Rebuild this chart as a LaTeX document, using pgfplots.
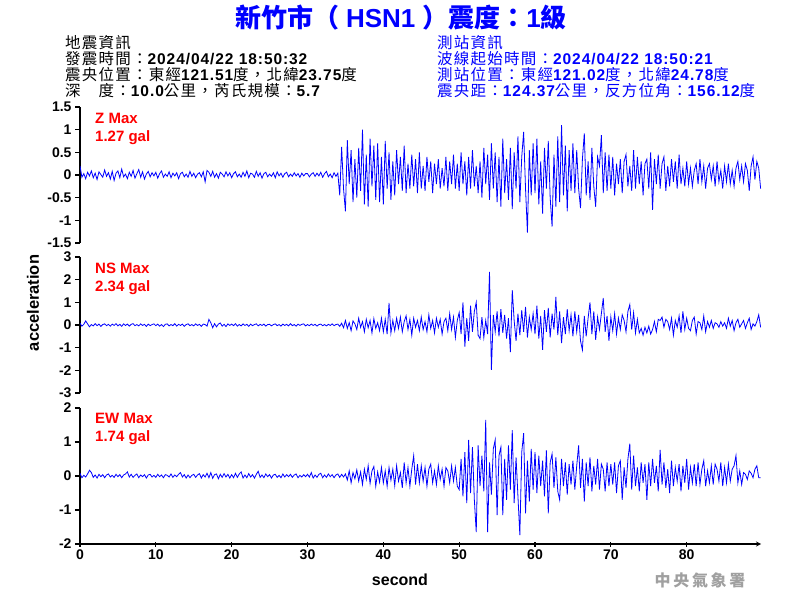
\documentclass[border=0pt]{standalone}
\usepackage{fontspec}
\setmainfont{Liberation Sans}
\newfontfamily\cjk{Noto Sans CJK TC}
\newfontfamily\cjkinfo[LetterSpace=8]{Noto Sans CJK TC}
\newfontfamily\latinfo[LetterSpace=6]{Liberation Sans}
\newcommand\zh[1]{{\cjkinfo\mdseries #1}}
\usepackage{pgfplots}
\pgfplotsset{compat=1.18}
\usepackage{pgfplotstable}

% samples every 0.25 s
\pgfplotstableread[row sep=\\]{z\\
0.20\\ -0.05\\ 0.03\\ -0.08\\ 0.06\\ -0.02\\ 0.09\\ -0.06\\ 0.04\\ -0.10\\ 0.07\\ 0.01\\ -0.05\\ 0.11\\ -0.03\\ 0.05\\ -0.09\\ 0.08\\ -0.12\\ 0.04\\
0.09\\ -0.06\\ 0.13\\ -0.04\\ 0.02\\ -0.08\\ 0.06\\ -0.03\\ 0.10\\ -0.07\\ 0.03\\ 0.12\\ -0.05\\ 0.07\\ -0.09\\ 0.02\\ 0.08\\ -0.04\\ 0.05\\ -0.02\\
0.06\\ -0.07\\ 0.03\\ 0.09\\ -0.05\\ 0.02\\ -0.03\\ 0.07\\ -0.06\\ 0.04\\ -0.02\\ 0.05\\ -0.08\\ 0.03\\ 0.06\\ -0.04\\ 0.02\\ -0.05\\ 0.08\\ -0.03\\
0.04\\ -0.06\\ 0.02\\ 0.05\\ -0.04\\ 0.07\\ -0.15\\ 0.10\\ 0.06\\ -0.03\\ 0.08\\ -0.05\\ 0.03\\ -0.07\\ 0.06\\ 0.02\\ -0.04\\ 0.07\\ -0.02\\ 0.05\\
-0.06\\ 0.03\\ 0.07\\ -0.04\\ 0.02\\ -0.05\\ 0.06\\ -0.03\\ 0.09\\ -0.06\\ 0.04\\ 0.02\\ -0.05\\ 0.08\\ -0.03\\ 0.05\\ -0.07\\ 0.03\\ 0.06\\ -0.04\\
0.02\\ -0.03\\ 0.05\\ -0.06\\ 0.07\\ -0.02\\ 0.04\\ -0.05\\ 0.03\\ 0.06\\ -0.04\\ 0.02\\ -0.03\\ 0.05\\ -0.02\\ 0.03\\ -0.05\\ 0.04\\ -0.02\\ 0.03\\
0.03\\ -0.04\\ 0.02\\ 0.05\\ -0.03\\ 0.04\\ -0.02\\ 0.06\\ -0.05\\ 0.03\\ 0.08\\ -0.04\\ 0.02\\ -0.06\\ 0.05\\ -0.03\\ 0.04\\ -0.45\\ 0.62\\ -0.30\\
-0.80\\ 0.77\\ -0.20\\ 0.55\\ -0.60\\ 0.35\\ -0.50\\ 0.60\\ -0.35\\ 1.00\\ -0.65\\ 0.45\\ -0.70\\ 0.80\\ -0.25\\ 0.65\\ -0.55\\ 0.70\\ -0.60\\ 0.40\\
-0.65\\ 0.75\\ -0.30\\ 0.50\\ -0.55\\ 0.30\\ -0.45\\ 0.55\\ -0.20\\ 0.40\\ -0.35\\ 0.65\\ -0.40\\ 0.25\\ -0.30\\ 0.45\\ -0.25\\ 0.35\\ -0.40\\ 0.50\\
-0.30\\ 0.20\\ -0.35\\ 0.40\\ -0.15\\ 0.30\\ -0.40\\ 0.25\\ -0.20\\ 0.35\\ -0.30\\ 0.15\\ -0.25\\ 0.40\\ -0.35\\ 0.30\\ -0.20\\ 0.45\\ -0.30\\ 0.25\\
-0.35\\ 0.50\\ -0.20\\ 0.30\\ -0.45\\ 0.40\\ -0.30\\ 0.55\\ -0.25\\ 0.20\\ -0.40\\ 0.30\\ -0.50\\ 0.60\\ -0.20\\ 0.45\\ -0.55\\ 0.70\\ -0.30\\ 0.50\\
-0.60\\ 0.40\\ -0.70\\ 0.80\\ -0.40\\ 0.35\\ -0.55\\ 0.60\\ -0.75\\ 0.50\\ -0.30\\ 0.85\\ -0.60\\ 0.40\\ 0.95\\ -0.30\\ -1.27\\ 0.55\\ -0.45\\ 0.70\\
-0.40\\ 0.80\\ -0.65\\ 0.30\\ -0.85\\ 0.60\\ -0.30\\ 0.75\\ -0.50\\ -1.14\\ 0.45\\ -0.70\\ 0.85\\ -0.60\\ 1.10\\ -0.45\\ 0.65\\ -0.80\\ 0.55\\ -0.35\\
0.70\\ -0.40\\ 0.55\\ -0.30\\ -0.73\\ 0.35\\ 0.92\\ -0.45\\ 0.30\\ -0.55\\ 0.60\\ -0.25\\ -0.70\\ 0.40\\ 0.20\\ 0.88\\ -0.40\\ 0.50\\ -0.35\\ 0.45\\
-0.30\\ 0.40\\ -0.45\\ 0.25\\ -0.20\\ 0.35\\ -0.40\\ 0.30\\ 0.45\\ -0.25\\ 0.20\\ -0.35\\ 0.55\\ -0.30\\ 0.40\\ -0.20\\ 0.30\\ -0.45\\ 0.25\\ 0.35\\
-0.30\\ 0.50\\ -0.77\\ 0.35\\ -0.20\\ 0.45\\ -0.30\\ 0.25\\ 0.40\\ -0.35\\ 0.20\\ -0.25\\ 0.35\\ -0.15\\ 0.30\\ -0.30\\ 0.45\\ -0.20\\ 0.15\\ -0.25\\
0.30\\ -0.20\\ 0.15\\ -0.25\\ 0.10\\ 0.25\\ -0.20\\ 0.35\\ -0.15\\ 0.20\\ -0.30\\ 0.15\\ 0.25\\ -0.10\\ 0.20\\ -0.25\\ 0.30\\ -0.15\\ 0.10\\ -0.30\\
0.20\\ -0.15\\ 0.25\\ -0.20\\ 0.10\\ -0.25\\ 0.15\\ 0.30\\ -0.10\\ 0.20\\ -0.15\\ 0.25\\ 0.10\\ -0.35\\ 0.20\\ 0.40\\ -0.10\\ 0.30\\ 0.15\\ -0.30\\
}\zdata

\pgfplotstableread[row sep=\\]{ns\\
0.08\\ -0.05\\ 0.03\\ 0.18\\ 0.05\\ -0.08\\ 0.02\\ -0.04\\ 0.06\\ -0.03\\ 0.04\\ -0.06\\ 0.02\\ 0.05\\ -0.03\\ 0.03\\ -0.05\\ 0.04\\ -0.02\\ 0.06\\
-0.04\\ 0.03\\ -0.06\\ 0.05\\ -0.02\\ 0.04\\ -0.05\\ 0.03\\ 0.06\\ -0.03\\ 0.02\\ -0.04\\ 0.05\\ -0.02\\ 0.03\\ -0.06\\ 0.04\\ -0.03\\ 0.02\\ 0.05\\
-0.03\\ 0.04\\ -0.05\\ 0.02\\ -0.07\\ 0.03\\ 0.05\\ -0.04\\ 0.02\\ -0.03\\ 0.06\\ -0.05\\ 0.03\\ -0.02\\ 0.04\\ -0.06\\ 0.02\\ 0.05\\ -0.03\\ 0.02\\
-0.04\\ 0.05\\ -0.02\\ 0.03\\ -0.06\\ 0.04\\ 0.02\\ -0.05\\ 0.25\\ 0.10\\ -0.12\\ 0.06\\ -0.08\\ 0.04\\ 0.09\\ -0.05\\ 0.03\\ -0.07\\ 0.05\\ -0.02\\
0.04\\ -0.03\\ 0.06\\ -0.05\\ 0.02\\ -0.04\\ 0.05\\ -0.02\\ 0.03\\ -0.06\\ 0.04\\ -0.03\\ 0.02\\ 0.05\\ -0.04\\ 0.03\\ -0.02\\ 0.04\\ -0.05\\ 0.02\\
0.03\\ -0.04\\ 0.02\\ 0.05\\ -0.03\\ 0.02\\ -0.05\\ 0.04\\ -0.02\\ 0.03\\ -0.04\\ 0.06\\ -0.03\\ 0.02\\ -0.05\\ 0.04\\ -0.02\\ 0.03\\ 0.05\\ -0.04\\
0.02\\ -0.03\\ 0.04\\ -0.02\\ 0.03\\ -0.05\\ 0.02\\ 0.04\\ -0.03\\ 0.02\\ -0.04\\ 0.03\\ -0.02\\ 0.05\\ -0.03\\ 0.02\\ 0.04\\ -0.06\\ 0.08\\ -0.12\\
0.20\\ -0.15\\ 0.10\\ -0.25\\ 0.18\\ 0.05\\ -0.20\\ 0.30\\ -0.10\\ 0.15\\ -0.30\\ 0.25\\ -0.12\\ 0.20\\ -0.35\\ 0.28\\ -0.15\\ 0.10\\ -0.25\\ 0.30\\
-0.30\\ 0.25\\ -0.40\\ 0.97\\ -0.35\\ 0.20\\ -0.25\\ 0.30\\ -0.15\\ 0.35\\ -0.30\\ 0.15\\ 0.40\\ -0.20\\ 0.25\\ -0.45\\ 0.30\\ -0.10\\ 0.20\\ -0.25\\
0.35\\ -0.20\\ 0.15\\ -0.30\\ 0.45\\ -0.15\\ 0.20\\ -0.35\\ 0.30\\ -0.10\\ 0.25\\ -0.40\\ 0.15\\ 0.30\\ -0.25\\ 0.50\\ -0.20\\ 0.35\\ -0.55\\ 0.20\\
0.55\\ -0.40\\ 1.00\\ -0.95\\ 0.30\\ -0.70\\ 0.85\\ -0.30\\ 0.60\\ 1.00\\ -0.45\\ -0.60\\ 0.35\\ -0.55\\ 0.20\\ -0.40\\ 2.34\\ -1.98\\ 0.45\\ -0.30\\
0.60\\ -0.50\\ 0.70\\ -0.35\\ 0.45\\ -0.60\\ 0.30\\ -1.20\\ 1.54\\ 0.20\\ -0.70\\ 0.50\\ -0.45\\ 0.65\\ -0.30\\ 0.80\\ -0.55\\ 0.35\\ -0.20\\ 0.50\\
-0.40\\ 0.85\\ -0.60\\ 0.40\\ -1.10\\ 0.65\\ -0.30\\ 0.75\\ -0.55\\ 0.50\\ -0.20\\ 1.24\\ -0.45\\ 0.60\\ -0.80\\ 0.35\\ -0.40\\ 0.70\\ -0.25\\ 0.45\\
-0.50\\ 0.60\\ -0.30\\ 0.45\\ -0.70\\ -1.10\\ 0.40\\ -0.50\\ 0.30\\ 1.00\\ -0.40\\ 0.60\\ -0.65\\ 0.35\\ -0.20\\ 0.50\\ 1.19\\ -0.30\\ 0.40\\ -0.70\\
0.35\\ -0.25\\ 0.50\\ -0.40\\ 0.30\\ -0.20\\ 0.45\\ 0.20\\ -0.30\\ 0.60\\ 0.90\\ -0.20\\ 0.55\\ -0.35\\ 0.25\\ -0.35\\ -0.15\\ -0.45\\ -0.10\\ -0.35\\
-0.05\\ -0.40\\ -0.20\\ 0.15\\ -0.30\\ 0.25\\ 0.20\\ 0.35\\ -0.10\\ 0.25\\ 0.15\\ -0.20\\ 0.30\\ -0.45\\ 0.20\\ -0.10\\ 0.40\\ -0.35\\ 0.60\\ -0.20\\
0.30\\ -0.15\\ -0.25\\ 0.20\\ 0.35\\ -0.40\\ 0.15\\ 0.10\\ -0.20\\ 0.40\\ -0.30\\ 0.15\\ -0.10\\ 0.20\\ -0.15\\ 0.10\\ 0.05\\ -0.10\\ 0.15\\ -0.05\\
0.10\\ -0.15\\ 0.30\\ -0.05\\ 0.20\\ -0.25\\ 0.10\\ 0.25\\ -0.10\\ 0.05\\ 0.20\\ -0.15\\ 0.10\\ 0.30\\ -0.20\\ 0.05\\ -0.05\\ 0.15\\ 0.45\\ -0.10\\
}\nsdata

\pgfplotstableread[row sep=\\]{ew\\
0.08\\ -0.05\\ 0.02\\ -0.03\\ 0.06\\ 0.17\\ 0.10\\ -0.04\\ 0.03\\ -0.06\\ 0.05\\ -0.02\\ 0.04\\ -0.05\\ 0.03\\ 0.06\\ -0.03\\ 0.02\\ -0.04\\ 0.05\\
-0.02\\ 0.04\\ -0.05\\ 0.03\\ 0.06\\ 0.12\\ -0.03\\ 0.05\\ -0.04\\ 0.02\\ 0.06\\ -0.05\\ 0.03\\ -0.02\\ 0.04\\ -0.06\\ 0.03\\ 0.05\\ -0.03\\ 0.02\\
-0.04\\ 0.05\\ -0.02\\ 0.03\\ -0.05\\ 0.04\\ 0.02\\ -0.03\\ 0.06\\ -0.04\\ 0.03\\ -0.02\\ 0.05\\ 0.10\\ -0.03\\ 0.04\\ -0.06\\ 0.03\\ -0.05\\ 0.02\\
0.05\\ -0.04\\ 0.03\\ 0.07\\ -0.06\\ 0.04\\ -0.03\\ 0.08\\ -0.05\\ 0.10\\ -0.07\\ 0.04\\ 0.06\\ -0.08\\ 0.05\\ -0.04\\ 0.07\\ -0.03\\ 0.05\\ -0.06\\
0.04\\ -0.05\\ 0.08\\ -0.04\\ 0.06\\ 0.12\\ -0.06\\ 0.03\\ -0.05\\ 0.07\\ -0.03\\ 0.04\\ -0.06\\ 0.05\\ 0.14\\ -0.04\\ 0.03\\ -0.05\\ 0.06\\ -0.02\\
0.04\\ -0.06\\ 0.03\\ 0.05\\ -0.04\\ 0.02\\ -0.05\\ 0.06\\ -0.03\\ 0.04\\ -0.02\\ 0.05\\ -0.04\\ 0.03\\ 0.06\\ -0.05\\ 0.02\\ -0.03\\ 0.04\\ -0.02\\
0.05\\ -0.03\\ 0.10\\ -0.06\\ 0.03\\ -0.04\\ 0.05\\ 0.08\\ -0.05\\ 0.03\\ -0.04\\ 0.06\\ -0.02\\ 0.04\\ -0.05\\ 0.03\\ 0.06\\ -0.04\\ 0.05\\ -0.03\\
0.06\\ -0.12\\ 0.15\\ -0.20\\ 0.10\\ -0.08\\ 0.18\\ -0.15\\ 0.12\\ -0.25\\ 0.20\\ -0.10\\ 0.30\\ -0.22\\ 0.15\\ 0.28\\ -0.30\\ 0.12\\ -0.18\\ 0.25\\
-0.20\\ 0.15\\ -0.30\\ 0.25\\ -0.12\\ 0.20\\ -0.28\\ 0.30\\ -0.15\\ 0.10\\ -0.35\\ 0.40\\ -0.20\\ 0.25\\ -0.30\\ 0.20\\ 0.60\\ -0.25\\ 0.35\\ -0.20\\
0.30\\ -0.15\\ 0.25\\ -0.30\\ 0.20\\ 0.35\\ -0.20\\ 0.15\\ -0.25\\ 0.30\\ -0.10\\ 0.20\\ -0.30\\ 0.25\\ 0.15\\ -0.20\\ 0.30\\ -0.15\\ 0.25\\ -0.30\\
-0.40\\ 0.50\\ -0.60\\ 0.70\\ -0.80\\ 1.06\\ -0.50\\ 0.85\\ -0.70\\ -1.65\\ 0.90\\ -0.30\\ 0.60\\ -0.45\\ 1.65\\ -1.65\\ 0.40\\ -0.55\\ 0.80\\ 1.06\\
-1.15\\ 0.60\\ 0.85\\ -1.15\\ 0.50\\ -0.70\\ 0.90\\ -0.40\\ 1.35\\ -0.80\\ 0.55\\ -0.60\\ -1.74\\ 0.70\\ 1.26\\ -1.10\\ 0.45\\ -0.75\\ 0.80\\ -0.40\\
0.70\\ -0.50\\ 0.60\\ -0.30\\ 0.45\\ -0.60\\ 0.75\\ -1.10\\ 0.40\\ 0.65\\ -0.35\\ 0.55\\ -0.45\\ -0.70\\ 0.50\\ -0.30\\ 0.40\\ -0.55\\ 0.35\\ -0.25\\
0.45\\ -0.40\\ 0.30\\ 0.90\\ -0.35\\ 0.50\\ -0.75\\ 0.40\\ -0.30\\ 0.55\\ -0.45\\ 0.30\\ -0.25\\ 0.50\\ -0.40\\ 0.35\\ 0.20\\ -0.45\\ 0.40\\ -0.30\\
0.35\\ -0.25\\ 0.40\\ -0.50\\ 0.30\\ 0.45\\ -0.70\\ 0.25\\ -0.35\\ 0.50\\ 0.95\\ -0.40\\ 0.60\\ -0.30\\ 0.25\\ -0.45\\ 0.40\\ -0.20\\ 0.35\\ -0.70\\
0.40\\ -0.30\\ 0.50\\ -0.20\\ 0.30\\ -0.45\\ 0.77\\ -0.25\\ 0.40\\ -0.35\\ 0.20\\ -0.50\\ 0.45\\ -0.30\\ 0.25\\ -0.15\\ 0.35\\ -0.45\\ 0.30\\ -0.20\\
0.50\\ -0.40\\ 0.25\\ -0.20\\ 0.35\\ -0.30\\ 0.40\\ -0.25\\ 0.20\\ 0.45\\ -0.30\\ 0.15\\ -0.20\\ 0.30\\ -0.25\\ 0.35\\ 0.20\\ -0.15\\ 0.40\\ -0.30\\
0.25\\ -0.20\\ 0.35\\ -0.15\\ 0.20\\ 0.30\\ 0.60\\ -0.20\\ 0.15\\ -0.25\\ 0.10\\ 0.05\\ -0.10\\ 0.15\\ 0.08\\ -0.05\\ 0.20\\ 0.30\\ -0.05\\ -0.05\\
}\ewdata

\definecolor{seisblue}{RGB}{0,0,255}
\definecolor{maxred}{RGB}{255,0,0}
\definecolor{cwbgray}{RGB}{160,160,160}

\pgfplotsset{
  seis/.style={
    scale only axis, width=681pt, height=136pt,
    xmin=0, xmax=89.8,
    axis y line=left,
    axis line style={-, line width=1.2pt, black},
    tick align=outside, major tick length=5pt,
    tick style={line width=1.2pt, black},
    tick label style={font=\bfseries\fontsize{14}{14}\selectfont},
  },
  seisline/.style={color=seisblue, line width=0.8pt, no marks},
}

\begin{document}
\begin{tikzpicture}[x=1pt,y=1pt]
\useasboundingbox (0pt,0pt) rectangle (800pt,600pt);

% title and header
\node[font=\bfseries\fontsize{26}{26}\selectfont, text=seisblue, inner sep=0] at (401pt,582pt)
  {{\cjk 新竹市（}\hspace{7pt}HSN1\hspace{7pt}{\cjk ）震度：}1{\cjk 級}};
\begin{scope}[every node/.style={anchor=west, inner sep=0,
    font=\fontsize{15.5}{15.5}\selectfont\latinfo\bfseries}]
\node at (65pt,557pt) {\zh{地震資訊}};
\node at (65pt,541pt) {\zh{發震時間：}2024/04/22 18:50:32};
\node at (65pt,525pt) {\zh{震央位置：東經}121.51\zh{度，北緯}23.75\zh{度}};
\node at (65pt,509pt) {\zh{深　度：}10.0\zh{公里，芮氏規模：}5.7};
\node[text=seisblue] at (437pt,557pt) {\zh{測站資訊}};
\node[text=seisblue] at (437pt,541pt) {\zh{波線起始時間：}2024/04/22 18:50:21};
\node[text=seisblue] at (437pt,525pt) {\zh{測站位置：東經}121.02\zh{度，北緯}24.78\zh{度}};
\node[text=seisblue] at (437pt,509pt) {\zh{震央距：}124.37\zh{公里，反方位角：}156.12\zh{度}};
\end{scope}

% Z
\begin{axis}[seis, at={(80pt,357pt)}, anchor=south west, axis x line=none,
  ymin=-1.5, ymax=1.5, ytick={-1.5,-1,-0.5,0,0.5,1,1.5},
  yticklabels={-1.5,-1,-0.5,0,0.5,1,1.5}]
\addplot[seisline] table[x expr=\coordindex*0.25, y=z] {\zdata};
\end{axis}

% NS
\begin{axis}[seis, at={(80pt,207pt)}, anchor=south west, axis x line=none,
  ymin=-3, ymax=3, ytick={-3,-2,-1,0,1,2,3},
  yticklabels={-3,-2,-1,0,1,2,3}]
\addplot[seisline] table[x expr=\coordindex*0.25, y=ns] {\nsdata};
\end{axis}

% EW
\begin{axis}[seis, at={(80pt,56pt)}, anchor=south west, axis x line=bottom,
  ymin=-2, ymax=2, ytick={-2,-1,0,1,2},
  yticklabels={-2,-1,0,1,2},
  xtick={0,10,20,30,40,50,60,70,80},
  xticklabels={0,10,20,30,40,50,60,70,80}]
\addplot[seisline] table[x expr=\coordindex*0.25, y=ew] {\ewdata};
\end{axis}

% labels
\begin{scope}[every node/.style={anchor=west, inner sep=0, text=maxred, font=\bfseries\fontsize{15}{15}\selectfont}]
\node at (95pt,482pt) {Z Max};
\node at (95pt,462pt) {1.27 gal};
\node at (95pt,332pt) {NS Max};
\node at (95pt,312pt) {2.34 gal};
\node at (95pt,182pt) {EW Max};
\node at (95pt,162pt) {1.74 gal};
\end{scope}
\node[rotate=90, inner sep=0, font=\bfseries\fontsize{16.5}{16.5}\selectfont] at (33pt,297pt) {acceleration};
\node[inner sep=0, font=\bfseries\fontsize{16}{16}\selectfont] at (400pt,20pt) {second};
\node[inner sep=0, text=cwbgray, font=\cjk\bfseries\fontsize{16}{16}\selectfont] at (700pt,20pt)
  {中\,央\,氣\,象\,署};
\end{tikzpicture}
\end{document}
